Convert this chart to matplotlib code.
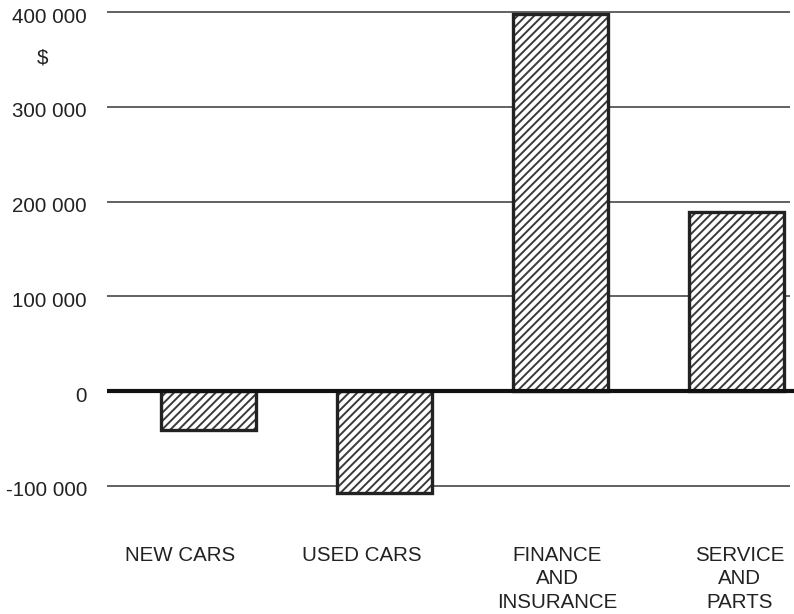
import matplotlib
matplotlib.use("Agg")
import matplotlib.pyplot as plt
import matplotlib.transforms as mtransforms

categories = ["NEW CARS", "USED CARS", "FINANCE\nAND\nINSURANCE", "SERVICE\nAND\nPARTS"]
values = [-41000, -107000, 398000, 189000]
yticks = [-100000, 0, 100000, 200000, 300000, 400000]
ytick_labels = ["-100 000", "0", "100 000", "200 000", "300 000", "400 000"]
unit_label = "$"

plt.rcParams['font.family'] = ['Liberation Sans', 'DejaVu Sans']
plt.rcParams['hatch.linewidth'] = 1.4

W, H = 794, 614
fig = plt.figure(figsize=(W / 100, H / 100), dpi=100)

# pixel mapping: value 0 at y=391.2, 100000 per 94.8 px
px_per_unit = 94.8 / 100000
y_zero = 391.2
ytop = (y_zero - 0) / px_per_unit
ybot = (y_zero - H) / px_per_unit

# x mapping: bar centres at 208.5 + 176*i
x0_px, step = 208.5, 176.0
left_px, right_px = 107, 794
xl = (left_px - x0_px) / step
xr = (right_px - x0_px) / step

ax = fig.add_axes([left_px / W, 0, (right_px - left_px) / W, 1])
ax.set_xlim(xl, xr)
ax.set_ylim(ybot, ytop)
for s in ax.spines.values():
    s.set_visible(False)
ax.set_xticks([])
ax.set_yticks(yticks)
ax.set_yticklabels(ytick_labels, fontsize=14.8, color='#222222')
ax.tick_params(axis='y', length=0, pad=14.4)
shift = mtransforms.ScaledTranslation(0, -3 / 100, fig.dpi_scale_trans)
for lab in ax.get_yticklabels():
    lab.set_transform(lab.get_transform() + shift)

grid_right = (790 - x0_px) / step
for t in yticks:
    if t == 0:
        continue
    ax.plot([xl, grid_right], [t, t], color='#555555', lw=1.3, zorder=1, solid_capstyle='butt')

xs = list(range(len(categories)))
ax.bar(xs, values, width=95 / step, color='white', edgecolor='#3a3a3a', hatch='////',
       linewidth=0, zorder=2)
ax.bar(xs, values, width=95 / step, fill=False, edgecolor='#222222', linewidth=2.4, zorder=3)

ax.plot([xl, xr], [0, 0], color='#111111', lw=3, zorder=4, solid_capstyle='butt')

label_offsets = [-28, -23, -3, 3]
label_top_px = 546
for i, (c, off) in enumerate(zip(categories, label_offsets)):
    ax.text(i + off / step, (y_zero - label_top_px) / px_per_unit, c, ha='center', va='top',
            fontsize=14.8, color='#222222', linespacing=1.29)

fig.text(43 / W, 1 - 58 / H, unit_label, ha='center', va='center', fontsize=14.8, color='#222222')

fig.savefig("out.png", dpi=100)
